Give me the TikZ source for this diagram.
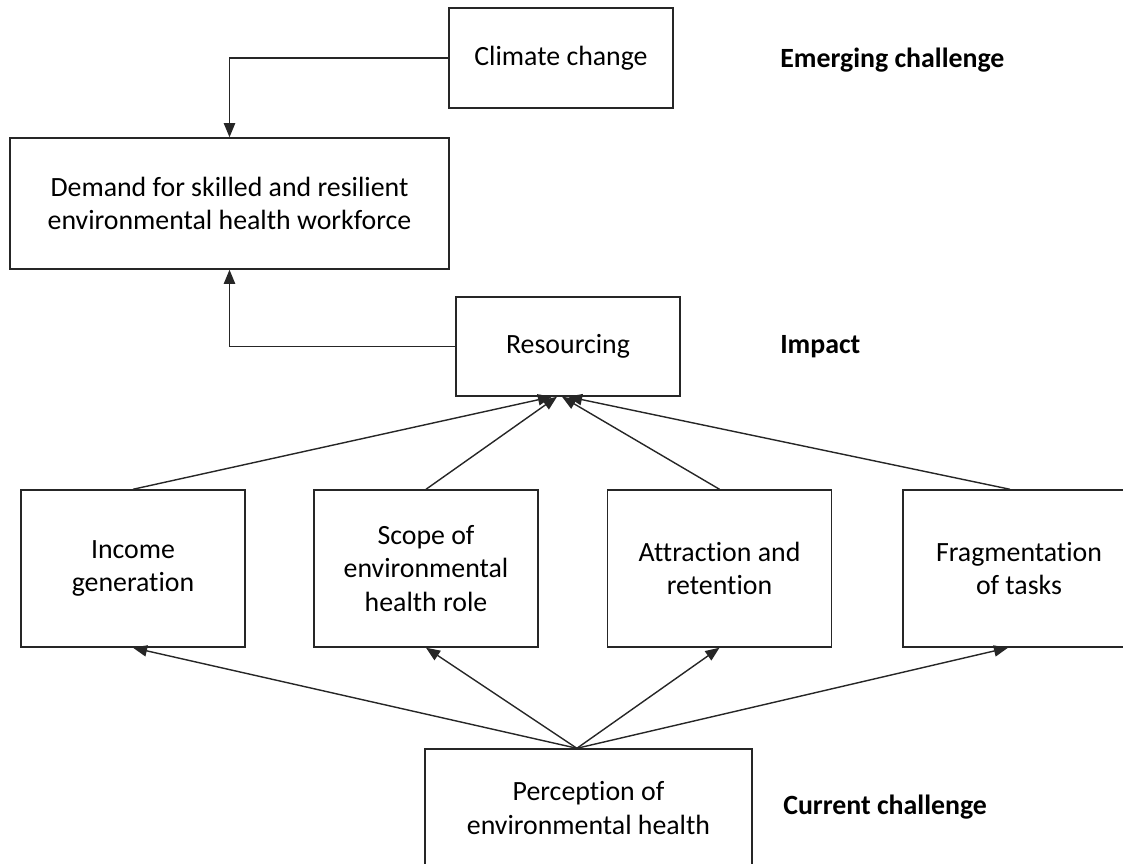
\documentclass[tikz,border=0pt]{standalone}
\usepackage{fontspec}
\setmainfont{Carlito}[Ligatures=NoCommon]
\usetikzlibrary{arrows.meta}

\tikzset{
    box/.style={draw=black!85, line width=1pt, align=center, inner sep=0pt,
        font=\fontsize{19.8}{23.6}\selectfont},
    tag/.style={anchor=west, inner sep=0pt, font=\fontsize{19.8}{23.6}\selectfont\bfseries},
    arr/.style={draw=black!85, line width=1pt, -{Triangle[length=10pt,width=8pt]}},
}

\begin{document}
\begin{tikzpicture}[x=0.025cm, y=-0.025cm]
    \useasboundingbox (0,0) rectangle (1123,863);

    \node[box, minimum width=5.6cm, minimum height=2.5cm] (clim) at (561,58) {Climate change};
    \node[box, minimum width=10.975cm, minimum height=3.275cm] (dem) at (229.5,203.5)
        {Demand for skilled and resilient\\environmental health workforce};
    \node[box, minimum width=5.6cm, minimum height=2.475cm] (res) at (568,346.5) {Resourcing};

    \node[box, minimum width=5.6cm, minimum height=3.925cm] (inc) at (133,568.5) {Income\\generation};
    \node[box, minimum width=5.6cm, minimum height=3.925cm] (scp) at (426,568.5)
        {Scope of\\environmental\\health role};
    \node[box, minimum width=5.6cm, minimum height=3.925cm] (att) at (719.5,568.5) {Attraction and\\retention};
    \node[box, minimum width=5.8cm, minimum height=3.925cm] (frg) at (1019,568.5) {Fragmentation\\of tasks};

    \node[box, minimum width=8.175cm, minimum height=2.95cm] (per) at (588.5,808)
        {Perception of\\environmental health};

    \node[tag] (emg) at (780,60) {Emerging challenge};
    \node[tag] (imp) at (780,347) {Impact};
    \node[tag] (cur) at (783,807) {Current challenge};

    \coordinate (r1) at ([xshift=-0.4cm]res.south);
    \coordinate (r2) at ([xshift=-0.275cm]res.south);
    \coordinate (r3) at ([xshift=-0.15cm]res.south);
    \coordinate (r4) at ([xshift=0.0cm]res.south);
    \coordinate (p0) at ([xshift=-0.29cm]per.north);
    \coordinate (f0) at ([xshift=-0.225cm]frg.north);
    \coordinate (f1) at ([xshift=-0.275cm]frg.south);

    \draw[arr] (clim.west) -| (dem.north);
    \draw[arr] (res.west) -| (dem.south);
    \draw[arr] (inc.north) -- (r1);
    \draw[arr] (scp.north) -- (r2);
    \draw[arr] (att.north) -- (r3);
    \draw[arr] (f0) -- (r4);
    \draw[arr] (p0) -- (inc.south);
    \draw[arr] (p0) -- (scp.south);
    \draw[arr] (p0) -- (att.south);
    \draw[arr] (p0) -- (f1);
\end{tikzpicture}
\end{document}
